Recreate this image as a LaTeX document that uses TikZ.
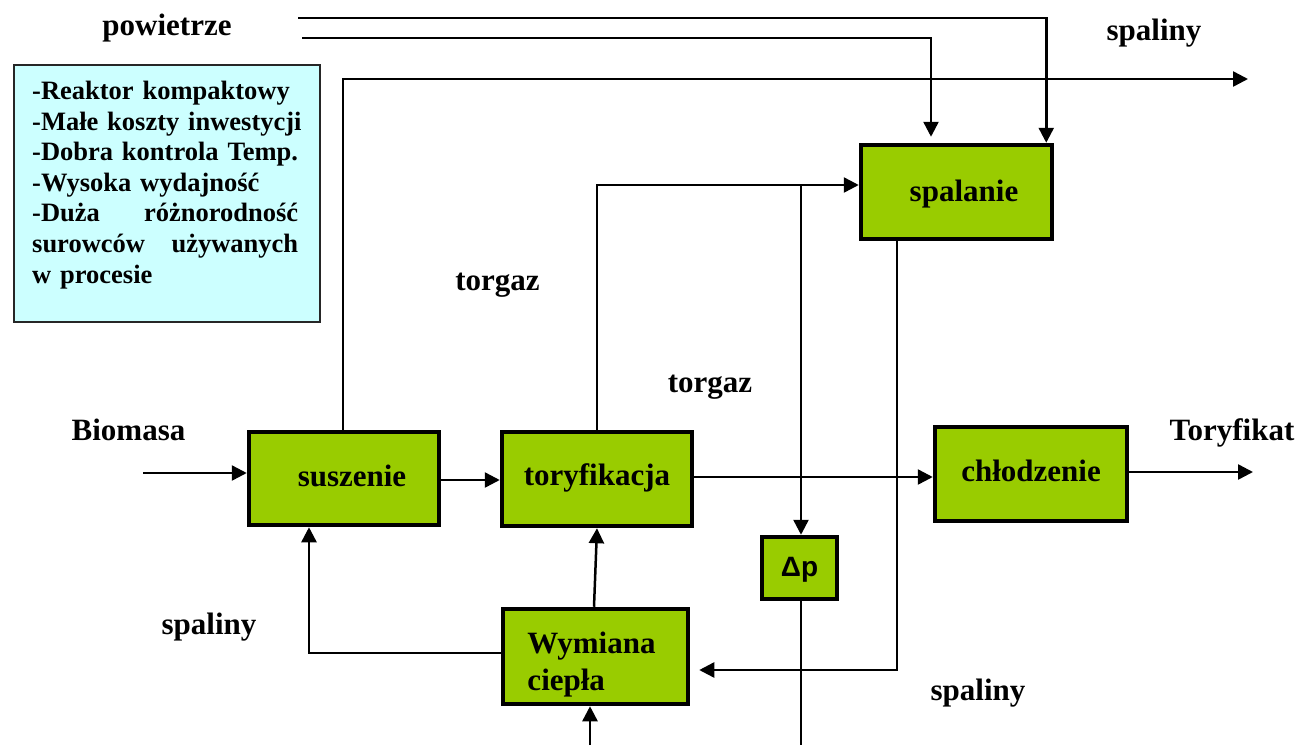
\documentclass[tikz,border=0pt]{standalone}
\usepackage{fontspec}
\setmainfont{Liberation Serif}
\newfontfamily\sansf{Liberation Sans}
\usetikzlibrary{arrows.meta}
\definecolor{boxgreen}{HTML}{99CC00}
\definecolor{infocyan}{HTML}{CCFFFF}
\begin{document}
\begin{tikzpicture}[x=1pt,y=-1pt,
  proc/.style={draw=black, fill=boxgreen, line width=4.5pt, inner sep=0pt, rectangle,
    font=\fontsize{31}{36}\selectfont\bfseries, text height=22pt, text depth=7pt},
  lbl/.style={font=\fontsize{31}{36}\selectfont\bfseries, inner sep=0pt, anchor=base},
  conn/.style={line width=2.5pt},
  arr/.style={conn, -{Triangle[length=15pt,width=15pt]}}]
\useasboundingbox (0,0) rectangle (1301,745);

% info box
\node[draw=black!85, fill=infocyan, line width=2pt, minimum width=306pt, minimum height=257pt,
  inner sep=0pt, anchor=north west] (info) at (13,64) {};
\node[anchor=north west, inner sep=0pt, text width=272pt, align=left,
  font=\fontsize{26.5}{30.6}\selectfont\bfseries] (infotext) at (32,81)
  {-Reaktor kompaktowy\\
   -Małe koszty inwestycji\\
   -Dobra kontrola Temp.\\
   -Wysoka wydajność\\
   \leavevmode\hbox to 266pt{-Duża\hfill różnorodność}\\
   \leavevmode\hbox to 266pt{surowców\hfill używanych}\\
   w procesie};

% process boxes
\node[proc, minimum width=190pt, minimum height=93pt] (sus) at (344,478.5) {\hspace*{16pt}suszenie};
\node[proc, minimum width=190pt, minimum height=94pt, text height=19pt] (tor) at (597,479) {toryfikacja};
\node[proc, minimum width=191pt, minimum height=94pt, text height=25pt] (spal) at (956.5,192) {\hspace*{15pt}spalanie};
\node[proc, minimum width=192pt, minimum height=94pt] (chl) at (1031,474) {chłodzenie};
\node[proc, minimum width=185pt, minimum height=95pt, align=left, text height=74pt, text depth=7pt,
  font=\fontsize{31}{37}\selectfont\bfseries] (wym) at (595.5,656.5) {\hspace*{-8pt}Wymiana\\\hspace*{-8pt}ciepła};
\node[proc, minimum width=75pt, minimum height=62pt, font=\fontsize{28}{32}\sansf\bfseries,
  text height=21pt, text depth=5pt] (dp) at (799.5,568) {Δp};

% labels
\node[lbl] (powietrze) at (167,35) {powietrze};
\node[lbl] (spalinyA) at (1154,40) {spaliny};
\node[lbl] (biomasa) at (128.5,440) {Biomasa};
\node[lbl] (toryfikat) at (1232,440) {Toryfikat};
\node[lbl] (torgazA) at (497.5,290) {torgaz};
\node[lbl] (torgazB) at (710,392) {torgaz};
\node[lbl] (spalinyB) at (209,634) {spaliny};
\node[lbl] (spalinyC) at (978,700) {spaliny};

% free ends
\coordinate (air1) at (298,18);
\coordinate (air2) at (302,38);
\coordinate (exh) at (1248,79);
\coordinate (j1) at (801,185);
\coordinate (prod) at (1253,472);
\coordinate (bio) at (143,473);
\coordinate (hin) at (590,745);
\coordinate (dpout) at (801,745);

% connectors
\draw[arr] (air1) -| ([xshift=-8pt]spal.north east);
\draw[arr] (air2) -| ([xshift=-25.5pt,yshift=6pt]spal.north);
\draw[arr] ([xshift=-1pt]sus.north) |- (exh);
\draw[arr] (tor.north) |- ([yshift=7pt]spal.west);
\draw[arr] (j1) -- (j1 |- dp.north);
\draw[arr] ([xshift=-59.5pt]spal.south) |- ([xshift=9pt,yshift=-13.5pt]wym.east);
\draw[arr] ([yshift=2pt]tor.east) -- ([yshift=2pt]tor.east -| chl.west);
\draw[arr] (chl.east |- prod) -- (prod);
\draw[arr] (bio) -- (bio -| sus.west);
\draw[arr] ([yshift=-1.5pt]sus.east) -- ([yshift=-1.5pt]sus.east -| tor.west);
\draw[arr] ([xshift=-1.5pt]wym.north) -- (tor.south);
\draw[arr] ([yshift=3.5pt]wym.west) -| ([xshift=-35pt]sus.south);
\draw[arr] (hin) -- (hin |- wym.south);
\draw[conn] (dp.south -| dpout) -- (dpout);
\end{tikzpicture}
\end{document}
